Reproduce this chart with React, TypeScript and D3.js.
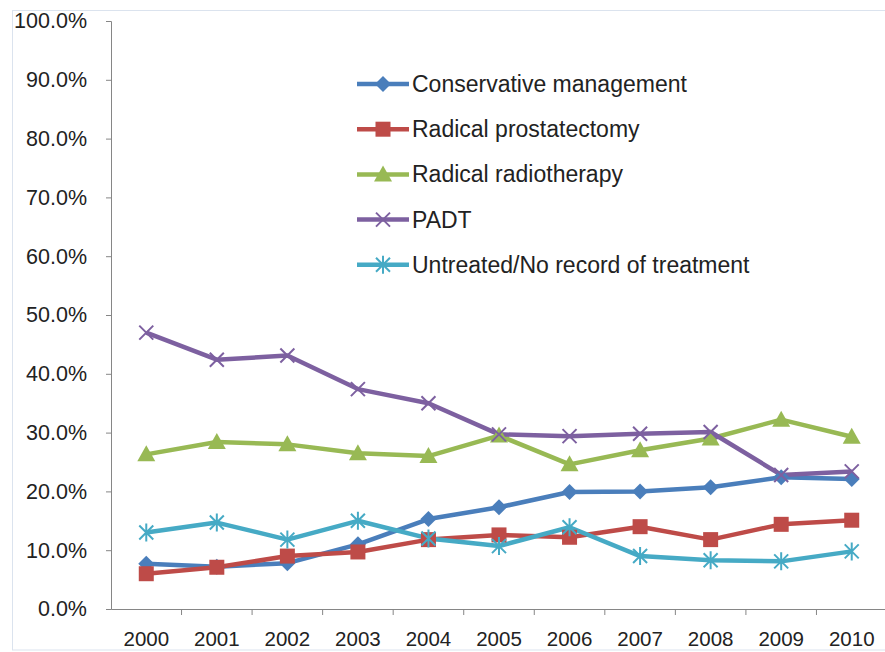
import * as d3 from "d3";
import { useEffect, useRef } from "react";

const years = ["2000", "2001", "2002", "2003", "2004", "2005", "2006", "2007", "2008", "2009", "2010"];
const yTicks = [0, 10, 20, 30, 40, 50, 60, 70, 80, 90, 100];

const conservative = [7.7, 7.2, 7.8, 11.0, 15.3, 17.3, 19.9, 20.0, 20.7, 22.4, 22.1];
const prostatectomy = [6.0, 7.1, 9.0, 9.7, 11.8, 12.6, 12.2, 14.0, 11.8, 14.4, 15.1];
const radiotherapy = [26.3, 28.4, 28.0, 26.5, 26.0, 29.5, 24.6, 27.0, 29.0, 32.2, 29.3];
const padt = [47.0, 42.4, 43.1, 37.4, 35.0, 29.7, 29.4, 29.8, 30.1, 22.8, 23.4];
const untreated = [13.0, 14.7, 11.8, 15.0, 12.0, 10.7, 13.9, 9.0, 8.3, 8.1, 9.8];

const seriesNames = [
    "Conservative management",
    "Radical prostatectomy",
    "Radical radiotherapy",
    "PADT",
    "Untreated/No record of treatment",
];
const seriesValues = [conservative, prostatectomy, radiotherapy, padt, untreated];
const seriesColors = ["#4a7ebb", "#be4b48", "#98b954", "#7d60a0", "#46aac5"];
const markers = ["diamond", "square", "triangle", "x", "star"];

const FONT = "Liberation Sans, Arial, sans-serif";

const drawMarker = (g, type, color, x, y) => {
    if (type === "diamond") {
        g.append("path").attr("d", `M${x},${y - 8}L${x + 8},${y}L${x},${y + 8}L${x - 8},${y}Z`).attr("fill", color);
    } else if (type === "square") {
        g.append("rect").attr("x", x - 7.5).attr("y", y - 7.5).attr("width", 15).attr("height", 15).attr("fill", color);
    } else if (type === "triangle") {
        g.append("path").attr("d", `M${x},${y - 9}L${x + 9},${y + 7}L${x - 9},${y + 7}Z`).attr("fill", color);
    } else if (type === "x") {
        g.append("path").attr("d", `M${x - 7},${y - 7}L${x + 7},${y + 7}M${x - 7},${y + 7}L${x + 7},${y - 7}`)
            .attr("stroke", color).attr("stroke-width", 2);
    } else {
        g.append("path").attr("d", `M${x - 7},${y - 7}L${x + 7},${y + 7}M${x - 7},${y + 7}L${x + 7},${y - 7}M${x},${y - 9}L${x},${y + 9}`)
            .attr("stroke", color).attr("stroke-width", 2);
    }
};

const App = () => {
    const chartRef = useRef(null);

    useEffect(() => {
        const height = 652;
        const margin = { top: 21, left: 111, bottom: 43 };
        const plotW = 776;

        const svg = d3.select(chartRef.current);
        svg.selectAll("*").remove();

        svg.append("rect")
            .attr("x", 12.5).attr("y", 10.5)
            .attr("width", 900).attr("height", 639.5)
            .attr("fill", "white").attr("stroke", "#dbe3ee");

        const scaleX = d3.scaleBand().domain(years).range([margin.left, margin.left + plotW]);
        const scaleY = d3.scaleLinear().domain([0, 100]).range([height - margin.bottom, margin.top]);

        const yAxis = svg.append("g")
            .attr("transform", `translate(${margin.left},0)`)
            .call(d3.axisLeft(scaleY).tickValues(yTicks).tickSize(5).tickPadding(19).tickFormat(d => `${d.toFixed(1)}%`));
        yAxis.select(".domain").attr("stroke", "#868686");
        yAxis.selectAll(".tick line").attr("stroke", "#868686");
        yAxis.selectAll("text").attr("fill", "#222").style("font-size", "21.5px").style("font-family", FONT);

        const xAxis = svg.append("g")
            .attr("transform", `translate(0,${height - margin.bottom})`)
            .call(d3.axisBottom(scaleX).tickSize(0).tickPadding(22));
        xAxis.select(".domain").attr("stroke", "#868686");
        xAxis.selectAll("text").attr("fill", "#222").style("font-size", "20.5px").style("font-family", FONT);
        years.forEach(y => {
            const xx = scaleX(y) + scaleX.bandwidth();
            xAxis.append("line").attr("x1", xx).attr("x2", xx).attr("y1", 0).attr("y2", 6).attr("stroke", "#868686");
        });

        const line = d3.line()
            .x((d, i) => scaleX(years[i]) + scaleX.bandwidth() / 2)
            .y(d => scaleY(d));

        seriesValues.forEach((vals, si) => {
            svg.append("path")
                .attr("d", line(vals))
                .attr("fill", "none")
                .attr("stroke", seriesColors[si])
                .attr("stroke-width", 4.5)
                .attr("stroke-linejoin", "round");
        });
        seriesValues.forEach((vals, si) => {
            const g = svg.append("g");
            vals.forEach((v, i) => {
                drawMarker(g, markers[si], seriesColors[si], scaleX(years[i]) + scaleX.bandwidth() / 2, scaleY(v));
            });
        });

        const legend = svg.append("g");
        seriesNames.forEach((name, i) => {
            const ly = 84 + i * 45.2;
            legend.append("line").attr("x1", 357).attr("x2", 409).attr("y1", ly).attr("y2", ly)
                .attr("stroke", seriesColors[i]).attr("stroke-width", 4.5);
            drawMarker(legend, markers[i], seriesColors[i], 383, ly);
            legend.append("text").attr("x", 412).attr("y", ly).attr("dy", "0.35em")
                .attr("fill", "#222").style("font-size", "23px").style("font-family", FONT)
                .text(name);
        });
    }, []);

    return (
        <svg ref={chartRef} width={885} height={652} style={{ position: "absolute", left: 0, top: 0 }} />
    );
};

export default App;
